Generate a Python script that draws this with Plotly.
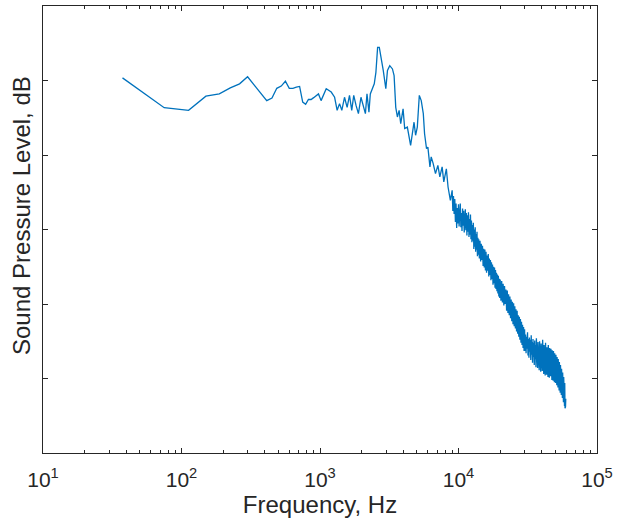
import plotly.graph_objects as go

# Narrow-band spectrum: FFT bin frequency (Hz) and level (dB)
freq_low = [37.5, 75, 112.5, 150, 187.5, 225, 262.5, 300, 337.5, 375, 412.5, 450,
            487.5, 525, 562.5, 600, 637.5, 675, 712.5, 750, 787.5, 825, 862.5, 900,
            937.5, 975]
spl_low = [100.7, 92.7, 92.0, 95.8, 96.4, 98.0, 99.1, 101.0, 98.6, 96.5, 94.6, 95.3,
           97.9, 98.5, 99.8, 97.9, 97.9, 98.2, 98.4, 94.2, 93.6, 94.9, 94.9, 95.4,
           96.0, 96.4]

freq_mid = [1018, 1109, 1205, 1275, 1330, 1384, 1437, 1503, 1570, 1633, 1695, 1752,
            1821, 1894, 1976, 2066, 2127, 2184, 2256, 2308, 2397, 2465, 2533, 2606,
            2680, 2750, 2862, 2987, 3070, 3189, 3335, 3428, 3523, 3622, 3726, 3827,
            3980, 4087, 4272, 4511, 4641, 4775, 4900, 5042, 5212, 5383, 5570, 5689,
            5877, 6012, 6220, 6352, 6565, 6822, 7096, 7333, 7617, 7831, 8171, 8405,
            8736]
spl_mid = [94.6, 97.8, 96.9, 95.5, 92.0, 93.8, 92.0, 95.5, 92.8, 96.0, 92.0, 96.0,
           93.3, 91.1, 95.5, 92.8, 91.1, 96.4, 91.5, 96.4, 98.2, 99.1, 102.2, 108.9,
           108.9, 106.7, 102.7, 97.8, 102.7, 104.0, 103.1, 101.3, 92.8, 90.2, 92.0, 88.4,
           92.4, 87.1, 87.5, 82.6, 85.7, 88.8, 85.3, 87.5, 96.0, 94.6, 91.1, 85.7,
           81.7, 82.1, 76.8, 79.5, 77.7, 75.0, 77.2, 74.1, 76.8, 72.8, 76.3, 71.4,
           67.8]

# 9-14 kHz, (Hz, dB)
band_a = [(9000, 70.5), (9100, 65.0), (9200, 69.0), (9300, 64.2), (9400, 68.2),
          (9500, 62.0), (9600, 67.0), (9700, 60.4), (9800, 65.8), (9900, 61.6),
          (10000, 66.8), (10100, 60.8), (10200, 65.2), (10300, 67.0), (10400, 60.6),
          (10500, 64.4), (10600, 59.6), (10700, 65.6), (10800, 61.0), (10900, 65.0),
          (11000, 59.2), (11100, 63.6), (11200, 65.4), (11300, 59.8), (11400, 64.4),
          (11500, 58.4), (11600, 63.8), (11700, 59.4), (11800, 64.6), (11900, 58.0),
          (12000, 62.8), (12100, 58.6), (12200, 64.0), (12300, 57.4), (12400, 62.4),
          (12500, 56.6), (12600, 61.2), (12700, 57.0), (12800, 61.8), (12900, 54.8),
          (13000, 60.0), (13100, 55.4), (13200, 60.6), (13300, 54.0), (13400, 58.8),
          (13500, 54.6), (13600, 59.4), (13700, 52.8), (13800, 57.8), (13900, 53.2),
          (14000, 57.4)]

# 14-20 kHz
band_b = [(14150, 52.2), (14300, 57.0), (14450, 51.4), (14600, 56.2), (14750, 51.8),
          (14900, 55.6), (15050, 50.2), (15200, 54.8), (15350, 49.8), (15500, 54.6),
          (15650, 49.0), (15800, 54.0), (15950, 48.4), (16100, 53.0), (16250, 48.9),
          (16400, 53.4), (16550, 47.4), (16700, 52.2), (16850, 47.8), (17000, 51.8),
          (17150, 46.4), (17300, 51.2), (17450, 46.7), (17600, 50.6), (17750, 45.2),
          (17900, 50.0), (18050, 45.6), (18200, 49.8), (18350, 44.4), (18500, 49.1),
          (18650, 44.0), (18800, 48.4), (18950, 43.4), (19100, 47.9), (19250, 42.8),
          (19400, 47.6), (19550, 42.0), (19700, 46.8), (19850, 41.6), (20000, 46.6)]

# 20-30 kHz
band_c = [(20250, 40.9), (20500, 46.2), (20750, 40.4), (21000, 45.4), (21250, 39.6),
          (21500, 44.8), (21750, 40.0), (22000, 43.9), (22250, 38.2), (22500, 43.6),
          (22750, 37.6), (23000, 42.6), (23250, 37.0), (23500, 42.0), (23750, 36.2),
          (24000, 41.2), (24250, 35.4), (24500, 40.6), (24750, 34.6), (25000, 40.2),
          (25250, 34.0), (25500, 39.4), (25750, 33.4), (26000, 38.6), (26250, 32.6),
          (26500, 38.2), (26750, 32.0), (27000, 37.0), (27250, 31.2), (27500, 36.6),
          (27750, 30.4), (28000, 36.0), (28250, 29.6), (28500, 35.2), (28750, 29.0),
          (29000, 34.4), (29250, 28.2), (29500, 33.8), (29750, 27.4), (30000, 33.2)]

# 30-60 kHz
band_d = [(30250, 27.4), (30500, 31.8), (30750, 26.8), (31000, 31.2), (31250, 28.0),
          (31500, 32.4), (31750, 26.2), (32000, 30.6), (32250, 25.6), (32500, 31.0),
          (32750, 27.2), (33000, 30.4), (33250, 25.0), (33500, 31.6), (33750, 26.4),
          (34000, 29.8), (34250, 24.2), (34500, 30.6), (34750, 25.8), (35000, 29.6),
          (35250, 23.6), (35500, 30.2), (35750, 25.2), (36000, 29.0), (36250, 23.0),
          (36500, 30.8), (36750, 24.6), (37000, 28.6), (37250, 22.8), (37500, 29.8),
          (37750, 24.0), (38000, 28.2), (38250, 22.2), (38500, 30.0), (38750, 23.6),
          (39000, 28.8), (39250, 21.8), (39500, 29.4), (39750, 24.2), (40000, 27.6),
          (40250, 22.0), (40500, 30.4), (40750, 23.0), (41000, 28.2), (41250, 21.2),
          (41500, 29.0), (41750, 23.8), (42000, 27.4), (42250, 20.8), (42500, 29.6),
          (42750, 22.6), (43000, 27.8), (43250, 21.0), (43500, 28.4), (43750, 23.2),
          (44000, 26.8), (44250, 20.4), (44500, 29.0), (44750, 22.0), (45000, 27.2),
          (45250, 20.2), (45500, 28.2), (45750, 21.8), (46000, 26.6), (46250, 20.6),
          (46500, 28.0), (46750, 22.4), (47000, 26.2), (47250, 19.6), (47500, 27.6),
          (47750, 21.2), (48000, 26.0), (48250, 19.4), (48500, 27.4), (48750, 20.8),
          (49000, 25.4), (49250, 19.0), (49500, 26.8), (49750, 20.6), (50000, 25.2),
          (50250, 18.8), (50500, 26.4), (50750, 20.0), (51000, 24.6), (51250, 18.2),
          (51500, 25.8), (51750, 19.4), (52000, 24.0), (52250, 17.6), (52500, 25.2),
          (52750, 18.6), (53000, 23.2), (53250, 16.8), (53500, 24.4), (53750, 18.0),
          (54000, 22.6), (54250, 16.2), (54500, 23.6), (54750, 17.2), (55000, 21.8),
          (55250, 15.6), (55500, 22.6), (55750, 16.4), (56000, 20.8), (56250, 14.8),
          (56500, 21.6), (56750, 15.4), (57000, 19.8), (57250, 13.6), (57500, 20.4),
          (57750, 14.2), (58000, 18.6), (58250, 12.6), (58500, 18.8), (58750, 12.0),
          (59000, 16.8), (59250, 12.4), (59500, 14.6)]

high = band_a + band_b + band_c + band_d
freq = freq_low + freq_mid + [f for f, _ in high]
spl = spl_low + spl_mid + [v for _, v in high]

decades = [10, 100, 1000, 10000, 100000]
decade_labels = ["10<sup>1</sup>", "10<sup>2</sup>", "10<sup>3</sup>",
                 "10<sup>4</sup>", "10<sup>5</sup>"]
minor_vals = [m * d for d in decades[:-1] for m in range(2, 10)]

axis_col = "#262626"
font_fam = "Liberation Sans, Arial, sans-serif"

fig = go.Figure(go.Scatter(x=freq, y=spl, mode="lines",
                           line=dict(color="#0072BD", width=1.3)))

fig.update_layout(
    width=618, height=522,
    margin=dict(l=43, r=17, t=5, b=69),
    paper_bgcolor="white", plot_bgcolor="white",
    showlegend=False,
    font=dict(family=font_fam, color=axis_col, size=21),
    annotations=[dict(
        text="Sound Pressure Level, dB", textangle=-90,
        xref="paper", yref="paper", x=-0.039, y=0.531,
        xanchor="center", yanchor="middle", showarrow=False,
        font=dict(size=24, color=axis_col, family=font_fam),
    )],
)
fig.update_xaxes(
    type="log", range=[1, 5],
    tickvals=decades, ticktext=decade_labels,
    ticks="inside", ticklen=5, tickcolor=axis_col, tickwidth=1,
    minor=dict(tickvals=minor_vals, ticks="inside", ticklen=3,
               tickcolor=axis_col, showgrid=False),
    showline=True, linecolor=axis_col, linewidth=1, mirror="allticks",
    showgrid=False, zeroline=False,
    tickfont=dict(size=21), ticklabelstandoff=8,
    title=dict(text="Frequency, Hz", font=dict(size=24), standoff=4),
)
fig.update_yaxes(
    range=[0, 120], tickvals=[20, 40, 60, 80, 100],
    ticks="inside", ticklen=5, tickcolor=axis_col, tickwidth=1,
    showticklabels=False,
    showline=True, linecolor=axis_col, linewidth=1, mirror="allticks",
    showgrid=False, zeroline=False,
)

fig.write_html("out.html")
